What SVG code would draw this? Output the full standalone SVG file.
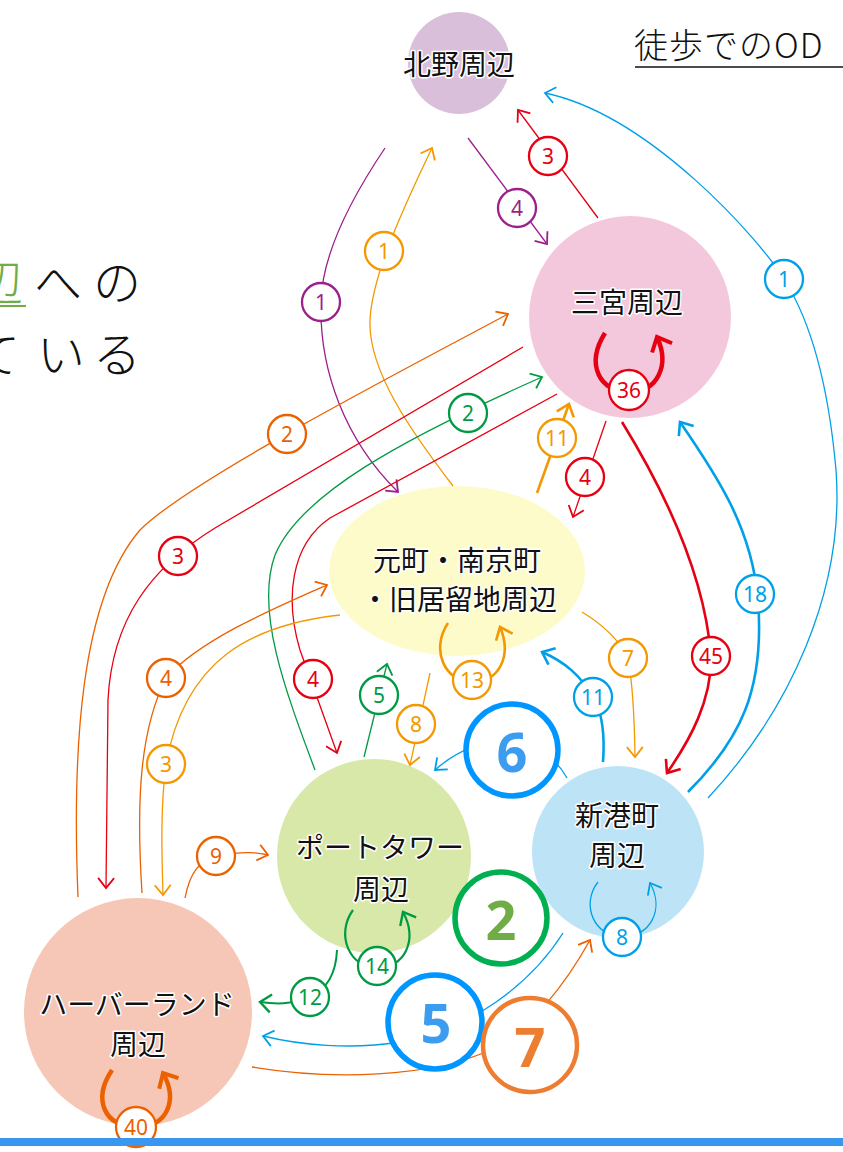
<svg xmlns="http://www.w3.org/2000/svg" width="843" height="1152" viewBox="0 0 843 1152">
<style>
.nl{font-family:"Noto Sans CJK JP","Noto Sans",sans-serif;font-size:28px;text-anchor:middle;fill:#111;stroke:#fff;stroke-width:3px;paint-order:stroke;stroke-linejoin:round}
.bg{font-family:"Noto Sans CJK JP","Noto Sans",sans-serif;font-weight:300;font-size:48px;fill:#111}
.ttl{font-family:"Noto Sans CJK JP","Noto Sans",sans-serif;font-weight:300;font-size:34px;fill:#111;letter-spacing:1px}
.c{fill:none;stroke-width:1.3}
.m{stroke-width:2.6}
.t{stroke-width:4.5}
.bd circle{fill:#fff;stroke-width:2.3}
.bd text{font-family:"Noto Sans","Liberation Sans",sans-serif;font-size:21px;text-anchor:middle}
.big circle{fill:#fff;stroke-width:5.5}
.big text{font-family:"Noto Sans","Liberation Sans",sans-serif;font-weight:700;font-size:54px;text-anchor:middle}
.pu{stroke:#9c1f8c}.red{stroke:#e60012}.od{stroke:#eb6100}.ol{stroke:#f39800}.gr{stroke:#009a44}.bl{stroke:#00a0e9}
.fpu{fill:#9c1f8c}.fred{fill:#e60012}.fod{fill:#eb6100}.fol{fill:#f39800}.fgr{fill:#009a44}.fbl{fill:#00a0e9}
</style>
<defs>
<marker id="a-pu" markerUnits="userSpaceOnUse" viewBox="-15 -15 30 30" markerWidth="30" markerHeight="30" refX="0" refY="0" orient="auto"><path d="M-10,-8 L0,0 L-10,8" fill="none" stroke="#9c1f8c" stroke-width="1.8"/></marker>
<marker id="a-red" markerUnits="userSpaceOnUse" viewBox="-15 -15 30 30" markerWidth="30" markerHeight="30" refX="0" refY="0" orient="auto"><path d="M-10,-8 L0,0 L-10,8" fill="none" stroke="#e60012" stroke-width="1.8"/></marker>
<marker id="a-redm" markerUnits="userSpaceOnUse" viewBox="-15 -15 30 30" markerWidth="30" markerHeight="30" refX="0" refY="0" orient="auto"><path d="M-11,-9 L0,0 L-11,9" fill="none" stroke="#e60012" stroke-width="2.6"/></marker>
<marker id="a-redt" markerUnits="userSpaceOnUse" viewBox="-20 -20 40 40" markerWidth="40" markerHeight="40" refX="0" refY="0" orient="auto"><path d="M-12,-11 L0,0 L-12,11" fill="none" stroke="#e60012" stroke-width="4"/></marker>
<marker id="a-od" markerUnits="userSpaceOnUse" viewBox="-15 -15 30 30" markerWidth="30" markerHeight="30" refX="0" refY="0" orient="auto"><path d="M-10,-8 L0,0 L-10,8" fill="none" stroke="#eb6100" stroke-width="1.8"/></marker>
<marker id="a-odt" markerUnits="userSpaceOnUse" viewBox="-20 -20 40 40" markerWidth="40" markerHeight="40" refX="0" refY="0" orient="auto"><path d="M-12,-11 L0,0 L-12,11" fill="none" stroke="#eb6100" stroke-width="4"/></marker>
<marker id="a-ol" markerUnits="userSpaceOnUse" viewBox="-15 -15 30 30" markerWidth="30" markerHeight="30" refX="0" refY="0" orient="auto"><path d="M-10,-8 L0,0 L-10,8" fill="none" stroke="#f39800" stroke-width="1.8"/></marker>
<marker id="a-olm" markerUnits="userSpaceOnUse" viewBox="-15 -15 30 30" markerWidth="30" markerHeight="30" refX="0" refY="0" orient="auto"><path d="M-11,-9 L0,0 L-11,9" fill="none" stroke="#f39800" stroke-width="2.6"/></marker>
<marker id="a-gr" markerUnits="userSpaceOnUse" viewBox="-15 -15 30 30" markerWidth="30" markerHeight="30" refX="0" refY="0" orient="auto"><path d="M-10,-8 L0,0 L-10,8" fill="none" stroke="#009a44" stroke-width="1.8"/></marker>
<marker id="a-grm" markerUnits="userSpaceOnUse" viewBox="-15 -15 30 30" markerWidth="30" markerHeight="30" refX="0" refY="0" orient="auto"><path d="M-11,-9 L0,0 L-11,9" fill="none" stroke="#009a44" stroke-width="2.4"/></marker>
<marker id="a-bl" markerUnits="userSpaceOnUse" viewBox="-15 -15 30 30" markerWidth="30" markerHeight="30" refX="0" refY="0" orient="auto"><path d="M-10,-8 L0,0 L-10,8" fill="none" stroke="#00a0e9" stroke-width="1.8"/></marker>
<marker id="a-blm" markerUnits="userSpaceOnUse" viewBox="-15 -15 30 30" markerWidth="30" markerHeight="30" refX="0" refY="0" orient="auto"><path d="M-11,-9 L0,0 L-11,9" fill="none" stroke="#00a0e9" stroke-width="2.6"/></marker>
</defs>
<rect width="843" height="1152" fill="#fff"/>

<!-- headings -->
<g id="title">
<text class="ttl" x="634" y="58">徒歩でのOD</text>
<line x1="635" y1="67" x2="843" y2="67" stroke="#111" stroke-width="1.6"/>
</g>
<g id="side-text">
<text class="bg" y="300"><tspan x="-25" fill="#70ad47">辺</tspan><tspan x="34">へ</tspan><tspan x="93">の</tspan></text>
<line x1="-25" y1="306" x2="26" y2="306" stroke="#70ad47" stroke-width="2"/>
<text class="bg" y="372"><tspan x="-28">て</tspan><tspan x="37">い</tspan><tspan x="93">る</tspan></text>
</g>

<!-- nodes -->
<g id="node-kitano"><circle cx="459" cy="63" r="51" fill="#d9bfda"/><text class="nl" x="459" y="75">北野周辺</text></g>
<g id="node-sannomiya"><circle cx="630" cy="317" r="101" fill="#f4c8dc"/><text class="nl" x="627" y="313">三宮周辺</text></g>
<g id="node-motomachi"><ellipse cx="457" cy="571" rx="128" ry="85" fill="#fefbcb"/><text class="nl" x="457" y="571">元町・南京町</text><text class="nl" x="459" y="610">・旧居留地周辺</text></g>
<g id="node-porttower"><circle cx="374" cy="856" r="97" fill="#d7e8a8"/><text class="nl" x="380" y="858">ポートタワー</text><text class="nl" x="381" y="900">周辺</text></g>
<g id="node-shinko"><circle cx="618" cy="852" r="86" fill="#bde3f7"/><text class="nl" x="617" y="826">新港町</text><text class="nl" x="617" y="866">周辺</text></g>
<g id="node-harborland"><circle cx="138" cy="1012" r="114" fill="#f6c6b7"/><text class="nl" x="137" y="1015">ハーバーランド</text><text class="nl" x="138" y="1055">周辺</text></g>

<!-- connectors -->
<g id="connectors">
<path class="c pu" d="M468,138 L547,244" marker-end="url(#a-pu)"/>
<path class="c red" d="M598,218 L518,110" marker-end="url(#a-red)"/>
<path class="c bl" d="M708,798 C790,710 845,590 836,470 C828,380 810,320 784,279 C760,240 650,115 545,93" marker-end="url(#a-bl)"/>
<path class="c pu" d="M385,148 C350,200 322,255 321,302 C319,370 345,440 398,492" marker-end="url(#a-pu)"/>
<path class="c ol" d="M453,486 C410,430 368,370 370,320 C372,280 395,225 432,148" marker-end="url(#a-ol)"/>
<path class="c od" d="M78,897 C72,750 80,600 140,530 C190,480 400,372 508,314" marker-end="url(#a-od)"/>
<path class="c red" d="M523,347 L215,528 C150,568 112,620 108,700 L106,888" marker-end="url(#a-red)"/>
<path class="c gr" d="M315,770 C285,690 255,610 275,555 C300,495 400,440 542,377" marker-end="url(#a-gr)"/>
<path class="c red" d="M557,394 L330,518 C290,545 285,600 300,650 L337,753" marker-end="url(#a-red)"/>
<path class="c ol m" d="M537,493 L569,404" marker-end="url(#a-olm)"/>
<path class="c red" d="M606,421 L573,517" marker-end="url(#a-red)"/>
<path class="c red m" d="M622,422 C670,500 705,580 711,656 C712,700 690,740 667,773" marker-end="url(#a-redm)"/>
<path class="c bl m" d="M688,792 C740,740 765,690 758,600 C752,530 720,480 680,422" marker-end="url(#a-blm)"/>
<path class="c bl m" d="M603,762 C605,735 603,715 594,698 C580,675 565,662 542,652" marker-end="url(#a-blm)"/>
<path class="c ol" d="M582,612 Q615,632 628,658 Q634,690 635,757" marker-end="url(#a-ol)"/>
<path class="c od" d="M142,893 C136,800 140,730 166,678 C200,640 270,610 327,585" marker-end="url(#a-od)"/>
<path class="c ol" d="M340,615 C250,625 185,660 166,764 C160,810 162,860 163,895" marker-end="url(#a-ol)"/>
<path class="c od" d="M185,898 C190,872 200,860 216,857 C235,852 252,851 268,855" marker-end="url(#a-od)"/>
<path class="c gr" d="M364,757 L387,664" marker-end="url(#a-gr)"/>
<path class="c ol" d="M430,673 L410,765" marker-end="url(#a-ol)"/>
<path class="c bl" d="M567,778 C540,730 480,730 435,770" marker-end="url(#a-bl)"/>
<path class="c bl" d="M563,933 C530,985 470,1030 400,1042 C350,1050 300,1045 263,1036" marker-end="url(#a-bl)"/>
<path class="c od" d="M252,1067 C330,1080 430,1078 490,1050 C530,1030 565,985 590,940" marker-end="url(#a-od)"/>
<path class="c gr" style="stroke-width:2" d="M337,950 C336,975 325,990 310,997 C290,1005 275,1004 260,1002" marker-end="url(#a-grm)"/>
<!-- self loops -->
<path class="c red t" d="M605,333 C585,365 600,392 629,392 C658,392 670,365 657,337" marker-end="url(#a-redt)"/>
<path class="c od t" d="M112,1070 C92,1100 105,1127 136,1127 C168,1127 178,1100 163,1073" marker-end="url(#a-odt)"/>
<path class="c ol m" d="M448,623 C430,650 445,682 472,682 C500,682 512,655 500,627" marker-end="url(#a-olm)"/>
<path class="c gr" style="stroke-width:2.2" d="M353,910 C335,935 350,968 377,968 C405,968 418,940 403,912" marker-end="url(#a-grm)"/>
<path class="c bl" d="M598,882 C580,905 595,937 622,937 C650,937 665,910 650,883" marker-end="url(#a-bl)"/>

<!-- badges -->
<g class="bd">
<circle cx="517" cy="208" r="19" class="pu"/><text x="517" y="216" class="fpu">4</text>
<circle cx="548" cy="156" r="19" class="red"/><text x="548" y="164" class="fred">3</text>
<circle cx="784" cy="279" r="19" class="bl"/><text x="784" y="287" class="fbl">1</text>
<circle cx="321" cy="302" r="19" class="pu"/><text x="321" y="310" class="fpu">1</text>
<circle cx="384" cy="251" r="19" class="ol"/><text x="384" y="259" class="fol">1</text>
<circle cx="287" cy="434" r="19" class="od"/><text x="287" y="442" class="fod">2</text>
<circle cx="468" cy="413" r="19" class="gr"/><text x="468" y="421" class="fgr">2</text>
<circle cx="178" cy="556" r="19" class="red"/><text x="178" y="564" class="fred">3</text>
<circle cx="557" cy="438" r="19" class="ol"/><text x="557" y="446" class="fol">11</text>
<circle cx="585" cy="477" r="19" class="red"/><text x="585" y="485" class="fred">4</text>
<circle cx="629" cy="390" r="20" class="red"/><text x="629" y="398" class="fred">36</text>
<circle cx="711" cy="656" r="19" class="red"/><text x="711" y="664" class="fred">45</text>
<circle cx="755" cy="594" r="19" class="bl"/><text x="755" y="602" class="fbl">18</text>
<circle cx="628" cy="658" r="19" class="ol"/><text x="628" y="666" class="fol">7</text>
<circle cx="593" cy="697" r="19" class="bl"/><text x="593" y="705" class="fbl">11</text>
<circle cx="472" cy="680" r="19" class="ol"/><text x="472" y="688" class="fol">13</text>
<circle cx="166" cy="678" r="19" class="od"/><text x="166" y="686" class="fod">4</text>
<circle cx="166" cy="764" r="19" class="ol"/><text x="166" y="772" class="fol">3</text>
<circle cx="313" cy="679" r="19" class="red"/><text x="313" y="687" class="fred">4</text>
<circle cx="379" cy="695" r="19" class="gr"/><text x="379" y="703" class="fgr">5</text>
<circle cx="416" cy="724" r="19" class="ol"/><text x="416" y="732" class="fol">8</text>
<circle cx="216" cy="856" r="19" class="od"/><text x="216" y="864" class="fod">9</text>
<circle cx="310" cy="997" r="19" class="gr"/><text x="310" y="1005" class="fgr">12</text>
<circle cx="377" cy="966" r="19" class="gr"/><text x="377" y="974" class="fgr">14</text>
<circle cx="622" cy="937" r="19" class="bl"/><text x="622" y="945" class="fbl">8</text>
<circle cx="136" cy="1127" r="20" class="od"/><text x="136" y="1135" class="fod">40</text>
</g>
</g>

<!-- big numbered markers -->
<g id="big-6" class="big"><circle cx="512" cy="750" r="46" stroke="#0096ff"/><text x="512" y="772" fill="#3c9cf0">6</text></g>
<g id="big-2" class="big"><circle cx="501" cy="918" r="46" stroke="#00b050"/><text x="501" y="940" fill="#70ad47">2</text></g>
<g id="big-5" class="big"><circle cx="435" cy="1022" r="47" stroke="#0096ff"/><text x="436" y="1043" fill="#3c9cf0">5</text></g>
<g id="big-7" class="big"><circle cx="530" cy="1045" r="47" stroke="#ed7d31" style="stroke-width:4.5"/><text x="530" y="1067" fill="#ed7d31">7</text></g>

<rect id="bottom-bar" x="0" y="1138" width="843" height="8" fill="#3a97f0"/>
</svg>
